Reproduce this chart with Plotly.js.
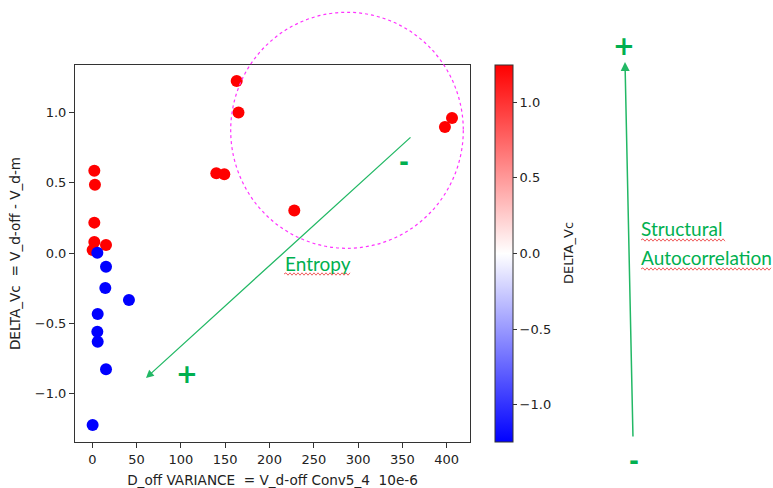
<!DOCTYPE html>
<html>
<head>
<meta charset="utf-8">
<script src="https://cdn.plot.ly/plotly-3.0.1.min.js"></script>
<style>html,body{margin:0;padding:0;background:#fff;}#chart{width:773px;height:488px;}</style>
</head>
<body>
<div id="chart"></div>
<script>
// Positive DELTA_Vc points (red)
const redX = [163, 165, 140, 149, 2.3, 3, 2.3, 2.3, 0.4, 15.5, 228, 398, 406];
const redY = [1.223, 1.0, 0.567, 0.56, 0.585, 0.486, 0.216, 0.078, 0.021, 0.057, 0.303, 0.896, 0.96];
// Negative DELTA_Vc points (blue)
const blueX = [5.7, 15.5, 14.7, 41.4, 6.1, 5.7, 6.1, 15.5, 0.4];
const blueY = [0.002, -0.097, -0.249, -0.334, -0.434, -0.56, -0.631, -0.827, -1.223];
const xTicks = [0, 50, 100, 150, 200, 250, 300, 350, 400];
const yTicks = [-1.0, -0.5, 0.0, 0.5, 1.0];
const cbTicks = [-1.0, -0.5, 0.0, 0.5, 1.0];
const cRange = [-1.245, 1.245];

const GREEN = '#00B050';
const LGREEN = '#22b865';
const font = {family: 'DejaVu Sans', size: 13, color: '#222'};
const tfont = {family: 'DejaVu Sans', size: 13.6, color: '#222'};
const NB = '\u00a0';

// plot area in pixels: x 75-470, y 65-442
const L = 75, R = 470, T = 65, B = 442;
const px = v => (v - L) / (R - L);
const py = v => (B - v) / (B - T);

function wavy(x0, x1, y) {
  let d = 'M ' + px(x0) + ' ' + py(y);
  let up = true;
  for (let x = x0 + 2; x <= x1; x += 2) {
    d += ' L ' + px(x) + ' ' + py(y + (up ? -1.2 : 1.2));
    up = !up;
  }
  return {type: 'path', xref: 'paper', yref: 'paper', path: d,
          line: {color: '#f06060', width: 1}};
}
const fmt = v => v.toFixed(1).replace('-', '\u2212');

const traces = [
  {x: redX, y: redY, type: 'scatter', mode: 'markers', showlegend: false,
   marker: {color: 'rgb(255,0,0)', size: 12, line: {width: 0}}},
  {x: blueX, y: blueY, type: 'scatter', mode: 'markers', showlegend: false,
   marker: {color: 'rgb(0,0,255)', size: 12, line: {width: 0}}},
  {x: [blueX[0], redX[0]], y: [blueY[0], redY[0]], type: 'scatter', mode: 'markers',
   showlegend: false, hoverinfo: 'skip',
   marker: {color: cRange, cmin: cRange[0], cmax: cRange[1], opacity: 0, size: 1,
     colorscale: [[0, 'rgb(0,0,255)'], [0.5, 'rgb(255,255,255)'], [1, 'rgb(255,0,0)']],
     showscale: true,
     colorbar: {x: px(495), xanchor: 'left', xpad: 0, ypad: 0, y: 0.5, yanchor: 'middle',
       len: 1, lenmode: 'fraction', thickness: 18, thicknessmode: 'pixels',
       outlinewidth: 1, outlinecolor: '#333',
       tickvals: cbTicks, ticktext: cbTicks.map(fmt),
       ticks: 'outside', ticklen: 4, tickcolor: '#333', tickfont: font}}}
];

const layout = {
  width: 773, height: 488,
  margin: {l: L, r: 773 - R, t: T, b: 488 - B, pad: 0},
  paper_bgcolor: '#fff', plot_bgcolor: '#fff',
  font: font,
  xaxis: {range: [-19.5, 426.3], tickvals: xTicks, ticktext: xTicks.map(String),
    showgrid: false, zeroline: false, showline: true, mirror: true, linecolor: '#333', linewidth: 1,
    ticks: 'outside', ticklen: 5, tickcolor: '#333', tickfont: font,
    title: {text: 'D_off VARIANCE' + NB + NB + '= V_d-off Conv5_4' + NB + NB + '10e-6', font: tfont, standoff: 9}},
  yaxis: {range: [-1.344, 1.337], tickvals: yTicks, ticktext: yTicks.map(fmt),
    showgrid: false, zeroline: false, showline: true, mirror: true, linecolor: '#333', linewidth: 1,
    ticks: 'outside', ticklen: 5, tickcolor: '#333', tickfont: font,
    title: {text: 'DELTA_Vc' + NB + NB + '= V_d-off - V_d-m', font: tfont, standoff: 11}},
  shapes: [
    {type: 'circle', xref: 'paper', yref: 'paper',
     x0: px(230.7), x1: px(463.3), y0: py(248.3), y1: py(12.3),
     line: {color: '#ff33ff', width: 1.2, dash: 'dot'}},
    wavy(284, 350, 274),
    wavy(641, 725, 240),
    wavy(641, 772, 269)
  ],
  annotations: [
    {xref: 'paper', yref: 'paper', x: px(568), y: py(253), xanchor: 'center', yanchor: 'middle',
     text: 'DELTA_Vc', textangle: -90, showarrow: false, font: font},
    {xref: 'paper', yref: 'paper', x: px(146), y: py(378), ax: 266, ay: -242,
     text: '', showarrow: true, arrowhead: 2, arrowsize: 1.2, arrowwidth: 1.3, arrowcolor: LGREEN},
    {xref: 'paper', yref: 'paper', x: px(625), y: py(62), ax: 8, ay: 376,
     text: '', showarrow: true, arrowhead: 2, arrowsize: 1.2, arrowwidth: 1.5, arrowcolor: LGREEN},
    {xref: 'paper', yref: 'paper', x: px(283), y: py(263), xanchor: 'left', yanchor: 'middle',
     text: 'Entropy', showarrow: false, font: {family: 'Lato', size: 19, color: GREEN}},
    {xref: 'paper', yref: 'paper', x: px(639), y: py(228), xanchor: 'left', yanchor: 'middle',
     text: 'Structural', showarrow: false, font: {family: 'Lato', size: 19, color: GREEN}},
    {xref: 'paper', yref: 'paper', x: px(639), y: py(257), xanchor: 'left', yanchor: 'middle',
     text: 'Autocorrelation', showarrow: false, font: {family: 'Lato', size: 19, color: GREEN}},
    {xref: 'paper', yref: 'paper', x: px(187), y: py(374), xanchor: 'center', yanchor: 'middle',
     text: '<b>+</b>', showarrow: false, font: {family: 'DejaVu Sans', size: 26, color: GREEN}},
    {xref: 'paper', yref: 'paper', x: px(624), y: py(46), xanchor: 'center', yanchor: 'middle',
     text: '<b>+</b>', showarrow: false, font: {family: 'DejaVu Sans', size: 26, color: GREEN}},
    {xref: 'paper', yref: 'paper', x: px(404), y: py(162), xanchor: 'center', yanchor: 'middle',
     text: '<b>-</b>', showarrow: false, font: {family: 'DejaVu Sans', size: 24, color: GREEN}},
    {xref: 'paper', yref: 'paper', x: px(634), y: py(461), xanchor: 'center', yanchor: 'middle',
     text: '<b>-</b>', showarrow: false, font: {family: 'DejaVu Sans', size: 24, color: GREEN}}
  ]
};

Plotly.newPlot('chart', traces, layout, {displayModeBar: false, staticPlot: true});
</script>
</body>
</html>
